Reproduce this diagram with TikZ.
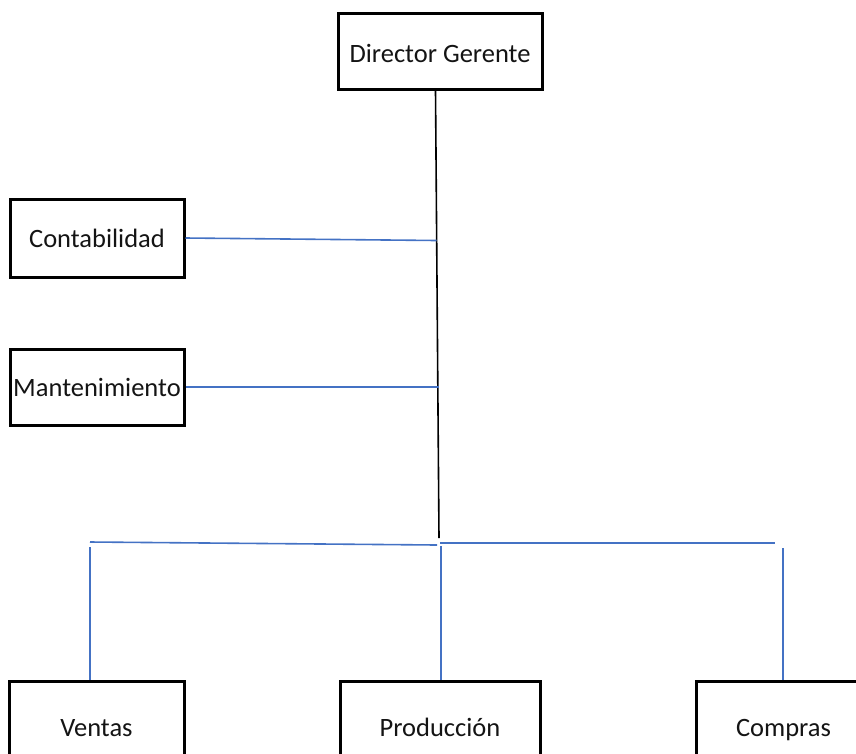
\documentclass[tikz,border=0pt]{standalone}
\usepackage{fontspec}
\setmainfont{Carlito}
\definecolor{conn}{HTML}{4472C4}
\begin{document}
\begin{tikzpicture}[x=1pt,y=-1pt,
  box/.style={draw=black, line width=3pt, inner sep=0pt, text=black!92,
    font=\fontsize{26.5}{32}\selectfont, text height=18.5pt, text depth=0pt},
  blueline/.style={draw=conn, line width=1.6pt},
  blackline/.style={draw=black, line width=1.6pt}]
\useasboundingbox (0,0) rectangle (856,753);
% boxes
\node[box, minimum width=204pt, minimum height=76pt, text height=23.5pt] (dir) at (440,51) {Director Gerente};
\node[box, minimum width=174pt, minimum height=78pt] (cont) at (97,238) {Contabilidad};
\node[box, minimum width=174pt, minimum height=76pt] (mant) at (97,387) {Mantenimiento};
\node[box, minimum width=175pt, minimum height=92pt] (vent) at (96.5,727.7) {Ventas};
\node[box, minimum width=200pt, minimum height=92pt] (prod) at (440,727.7) {Producción};
\node[box, minimum width=175pt, minimum height=92pt] (comp) at (783.5,727.7) {Compras};
% junction coordinates
\coordinate (jtop) at (435.5,0);
\coordinate (jc) at (436.5,240.5);
\coordinate (jm) at (438.5,387);
\coordinate (jb) at (439,538);
\coordinate (hl1) at (90,542);
\coordinate (hl2) at (437,545);
\coordinate (hr1) at (440,543);
\coordinate (hr2) at (775,543);
\coordinate (vv) at (90,547);
\coordinate (vp) at (441,546);
\coordinate (vc) at (783,548);
% connectors
\draw[blackline] (jtop |- dir.south) -- (jb);
\draw[blueline] (cont.east) -- (jc);
\draw[blueline] (mant.east) -- (jm);
\draw[blueline] (hl1) -- (hl2);
\draw[blueline] (hr1) -- (hr2);
\draw[blueline] (vv) -- (vv |- vent.north);
\draw[blueline] (vp) -- (vp |- prod.north);
\draw[blueline] (vc) -- (vc |- comp.north);
\end{tikzpicture}
\end{document}
